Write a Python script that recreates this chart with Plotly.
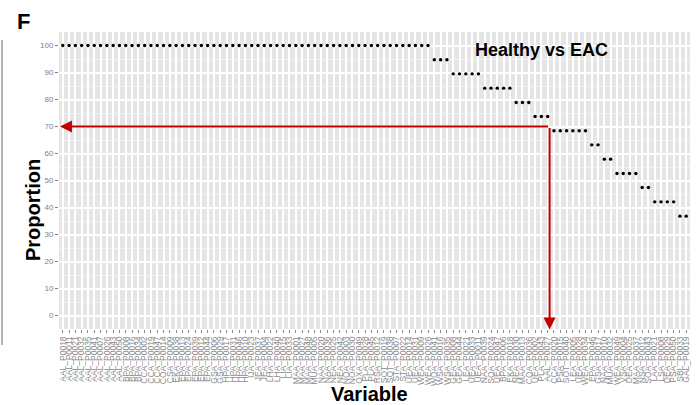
import plotly.graph_objects as go

# Variables (sample IDs) along the x axis
variables = [
    "AAL_P0018", "AAL_P0011", "AAL_P0021", "AAL_P0032", "AAL_P0035", "AAL_P0041", "AAL_P0007", "AAL_P0026",
    "AAL_P0043", "AAL_P0050", "BPA_P0008", "BPA_P0016", "BPA_P0034", "CCA_P0002", "CCA_P0019", "CCA_P0047",
    "COA_P0014", "CSA_P0009", "EKA_P0038", "EPA_P0013", "EPA_P0024", "EPA_P0039", "EPA_P0012", "EPA_P0044",
    "GSA_P0006", "GSA_P0029", "HPA_P0017", "HPA_P0031", "HPA_P0046", "HPA_P0010", "IJA_P0023", "JEA_P0037",
    "JEA_P0004", "LHA_P0022", "LHA_P0040", "LIA_P0015", "LIA_P0033", "MAA_P0001", "MAA_P0027", "MAA_P0048",
    "MUA_P0005", "NAA_P0020", "NAA_P0036", "NEA_P0025", "NEA_P0042", "NOA_P0003", "NOA_P0030", "OXA_P0049",
    "PLA_P0028", "PLA_P0045", "RSA_P0012", "SOT_P0019", "SOT_P0038", "STA_P0007", "STA_P0022", "UEA_P0014",
    "UEA_P0031", "WEA_P0009", "WEA_P0026", "WOA_P0041", "WSA_P0016", "WSA_P0035", "GEA_P0008", "GEA_P0044",
    "LEA_P0021", "UEA_P0033", "UEA_P0011", "NAA_P0039", "SOA_P0024", "UEA_P0047", "BPA_P0006", "EKA_P0018",
    "NEA_P0030", "MAA_P0013", "COA_P0036", "UEA_P0002", "PLA_P0043", "AAL_P0027", "CCA_P0020", "PSA_P0015",
    "SOT_P0040", "LEA_P0005", "UEA_P0028", "WEA_P0034", "EPA_P0046", "GSA_P0017", "NAA_P0010", "MUA_P0032",
    "WEA_P0049", "VSA_P0004", "DEA_P0025", "MAA_P0037", "NSA_P0012", "SOA_P0043", "LAA_P0021", "LSA_P0008",
    "DEA_P0029", "PSA_P0050", "SBL_P0033", "GAL_P0019",
]

# Proportion (%) for each variable, in the same order
proportion = (
    [100.0] * 59
    + [94.7] * 3
    + [89.5] * 5
    + [84.2] * 5
    + [78.9] * 3
    + [73.7] * 3
    + [68.4] * 6
    + [63.2] * 2
    + [57.9] * 2
    + [52.6] * 4
    + [47.4] * 2
    + [42.1] * 4
    + [36.8] * 2
)

y_ticks = [0, 10, 20, 30, 40, 50, 60, 70, 80, 90, 100]

# Cut-off marked by the red guide arrows
cutoff_value = 70
cutoff_position = 77.3

FONT = "Arial, Liberation Sans, sans-serif"
x_pos = list(range(len(variables)))

fig = go.Figure()
fig.add_trace(go.Scatter(
    x=x_pos, y=proportion, mode="markers",
    marker=dict(color="black", size=3.4),
    hoverinfo="skip", showlegend=False, cliponaxis=False,
))

fig.update_layout(
    width=698, height=405,
    margin=dict(l=59, r=8, t=32, b=76),
    paper_bgcolor="white", plot_bgcolor="#E5E5E5",
    font=dict(family=FONT, color="#7F7F7F"),
    showlegend=False,
)

fig.update_xaxes(
    range=[-0.6, len(variables) - 0.4],
    tickmode="array", tickvals=x_pos, ticktext=variables,
    tickangle=-90, tickfont=dict(size=8.5, color="#8A8A8A"),
    ticks="outside", ticklen=3, tickwidth=1, tickcolor="#8A8A8A",
    showgrid=True, gridcolor="white", gridwidth=1.8,
    zeroline=False, showline=False, fixedrange=True,
)
fig.update_yaxes(
    range=[-5, 105],
    tickmode="array", tickvals=y_ticks, ticktext=[str(v) for v in y_ticks],
    tickfont=dict(size=8, color="#7F7F7F"),
    ticks="outside", ticklen=3, tickwidth=1, tickcolor="#7F7F7F",
    showgrid=True, gridcolor="white", gridwidth=1.6,
    minor=dict(tickvals=[v + 5 for v in y_ticks[:-1]], showgrid=True, gridcolor="#F2F2F2", gridwidth=1),
    zeroline=False, showline=False, fixedrange=True,
)

# Red guide arrows: horizontal to the y axis, vertical to the x axis
fig.add_annotation(
    x=-0.45, y=cutoff_value, ax=cutoff_position, ay=cutoff_value,
    xref="x", yref="y", axref="x", ayref="y",
    showarrow=True, arrowhead=2, arrowsize=1.2, arrowwidth=2, arrowcolor="#C00000", text="",
)
fig.add_annotation(
    x=cutoff_position, y=-5.2, ax=cutoff_position, ay=cutoff_value,
    xref="x", yref="y", axref="x", ayref="y",
    showarrow=True, arrowhead=2, arrowsize=1.2, arrowwidth=2, arrowcolor="#C00000", text="",
)

# Titles and panel letter
fig.add_annotation(
    text="<b>Healthy vs EAC</b>", x=541, y=50, showarrow=False,
    font=dict(size=18, color="black", family=FONT),
)
fig.add_annotation(
    text="<b>F</b>", x=23, y=22, showarrow=False,
    font=dict(size=22, color="black", family=FONT),
)
fig.add_annotation(
    text="<b>Proportion</b>", x=33, y=210, textangle=-90, showarrow=False,
    font=dict(size=20, color="black", family=FONT),
)
fig.add_annotation(
    text="<b>Variable</b>", x=369, y=394, showarrow=False,
    font=dict(size=20, color="black", family=FONT),
)

# Convert the pixel-placed text annotations to paper coordinates
W, H = 698, 405
ml, mr, mt, mb = 59, 8, 32, 76
pw, ph = W - ml - mr, H - mt - mb
for ann in fig.layout.annotations:
    if ann.text and ann.xref != "x":
        px, py = ann.x, ann.y
        ann.update(xref="paper", yref="paper",
                   x=(px - ml) / pw, y=(H - mb - py) / ph,
                   xanchor="center", yanchor="middle")

# Thin grey rule at the far left edge
fig.add_shape(
    type="line", xref="paper", yref="paper",
    x0=(2 - ml) / pw, x1=(2 - ml) / pw,
    y0=(H - mb - 345) / ph, y1=(H - mb - 40) / ph,
    line=dict(color="#9A9A9A", width=1.5),
)

fig.write_html("out.html")
